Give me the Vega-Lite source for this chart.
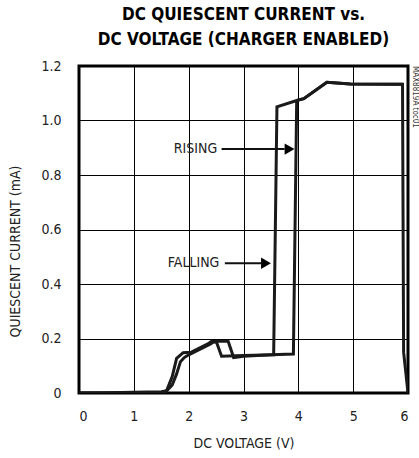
{
  "$schema": "https://vega.github.io/schema/vega-lite/v6.json",
  "autosize": {"type": "none"},
  "width": 329,
  "height": 327,
  "padding": {"left": 79, "top": 66, "right": 11, "bottom": 65},
  "title": {
    "text": ["DC QUIESCENT CURRENT vs.", "DC VOLTAGE (CHARGER ENABLED)"],
    "font": "DejaVu Sans Condensed",
    "fontSize": 17,
    "fontWeight": "bold",
    "color": "#000",
    "anchor": "middle",
    "offset": 10,
    "lineHeight": 25
  },
  "config": {
    "view": {"stroke": "#000", "strokeWidth": 3},
    "font": "DejaVu Sans Condensed"
  },
  "datasets": {
    "curve": [
      {"s": "rising", "i": 1, "v": 0.0, "c": 0.0},
      {"s": "rising", "i": 2, "v": 0.5, "c": 0.001},
      {"s": "rising", "i": 3, "v": 1.0, "c": 0.003},
      {"s": "rising", "i": 4, "v": 1.5, "c": 0.005},
      {"s": "rising", "i": 5, "v": 1.6, "c": 0.008},
      {"s": "rising", "i": 6, "v": 1.7, "c": 0.03},
      {"s": "rising", "i": 7, "v": 1.78, "c": 0.07},
      {"s": "rising", "i": 8, "v": 1.85, "c": 0.115},
      {"s": "rising", "i": 9, "v": 1.92, "c": 0.13},
      {"s": "rising", "i": 10, "v": 2.0, "c": 0.14},
      {"s": "rising", "i": 11, "v": 2.1, "c": 0.15},
      {"s": "rising", "i": 12, "v": 2.2, "c": 0.16},
      {"s": "rising", "i": 13, "v": 2.3, "c": 0.17},
      {"s": "rising", "i": 14, "v": 2.4, "c": 0.18},
      {"s": "rising", "i": 15, "v": 2.47, "c": 0.19},
      {"s": "rising", "i": 16, "v": 2.72, "c": 0.19},
      {"s": "rising", "i": 17, "v": 2.82, "c": 0.13},
      {"s": "rising", "i": 18, "v": 3.0, "c": 0.135},
      {"s": "rising", "i": 19, "v": 3.5, "c": 0.14},
      {"s": "rising", "i": 20, "v": 3.91, "c": 0.143},
      {"s": "rising", "i": 21, "v": 3.97, "c": 1.07},
      {"s": "rising", "i": 22, "v": 4.0, "c": 1.075},
      {"s": "rising", "i": 23, "v": 4.1, "c": 1.08},
      {"s": "rising", "i": 24, "v": 4.52, "c": 1.14},
      {"s": "rising", "i": 25, "v": 4.95, "c": 1.134},
      {"s": "rising", "i": 26, "v": 5.9, "c": 1.133},
      {"s": "rising", "i": 27, "v": 5.92, "c": 0.15},
      {"s": "rising", "i": 28, "v": 6.0, "c": 0.0},
      {"s": "falling", "i": 1, "v": 5.9, "c": 1.133},
      {"s": "falling", "i": 2, "v": 4.95, "c": 1.134},
      {"s": "falling", "i": 3, "v": 4.52, "c": 1.14},
      {"s": "falling", "i": 4, "v": 4.1, "c": 1.08},
      {"s": "falling", "i": 5, "v": 4.0, "c": 1.075},
      {"s": "falling", "i": 6, "v": 3.61, "c": 1.05},
      {"s": "falling", "i": 7, "v": 3.55, "c": 0.14},
      {"s": "falling", "i": 8, "v": 3.0, "c": 0.138},
      {"s": "falling", "i": 9, "v": 2.6, "c": 0.135},
      {"s": "falling", "i": 10, "v": 2.51, "c": 0.185},
      {"s": "falling", "i": 11, "v": 2.42, "c": 0.19},
      {"s": "falling", "i": 12, "v": 2.35, "c": 0.18},
      {"s": "falling", "i": 13, "v": 2.25, "c": 0.17},
      {"s": "falling", "i": 14, "v": 2.15, "c": 0.16},
      {"s": "falling", "i": 15, "v": 2.05, "c": 0.15},
      {"s": "falling", "i": 16, "v": 1.9, "c": 0.148},
      {"s": "falling", "i": 17, "v": 1.78, "c": 0.127},
      {"s": "falling", "i": 18, "v": 1.7, "c": 0.06},
      {"s": "falling", "i": 19, "v": 1.6, "c": 0.01},
      {"s": "falling", "i": 20, "v": 1.57, "c": 0.0},
      {"s": "falling", "i": 21, "v": 1.0, "c": 0.0},
      {"s": "falling", "i": 22, "v": 0.0, "c": 0.0}
    ],
    "ann": [
      {"label": "RISING", "x": 2.52, "y": 0.895},
      {"label": "FALLING", "x": 2.56, "y": 0.476}
    ],
    "arrows": [
      {"x1": 2.6, "x2": 3.75, "y": 0.895, "tip": 3.84},
      {"x1": 2.66, "x2": 3.32, "y": 0.476, "tip": 3.41}
    ],
    "side": [
      {"label": "MAX8819A toc01", "x": 6, "y": 1.2}
    ]
  },
  "layer": [
    {
      "data": {"name": "curve"},
      "mark": {"type": "line", "color": "#1a1a1a", "strokeWidth": 3, "strokeJoin": "miter", "clip": true},
      "encoding": {
        "x": {
          "field": "v", "type": "quantitative",
          "scale": {"domain": [0, 6], "nice": false, "zero": false},
          "axis": {
            "title": "DC VOLTAGE (V)",
            "values": [0, 1, 2, 3, 4, 5, 6],
            "format": "d",
            "grid": true, "gridColor": "#000", "gridWidth": 1, "gridOpacity": 1,
            "ticks": false, "domain": false,
            "labelFontSize": 14, "labelColor": "#222", "labelPadding": 16,
            "titleFontSize": 14, "titleFontWeight": "normal", "titleColor": "#222",
            "titleBaseline": "middle", "titleY": 50
          }
        },
        "y": {
          "field": "c", "type": "quantitative",
          "scale": {"domain": [0, 1.2], "nice": false},
          "axis": {
            "title": "QUIESCENT CURRENT (mA)",
            "values": [0, 0.2, 0.4, 0.6, 0.8, 1.0, 1.2],
            "labelExpr": "datum.value == 0 ? '0' : format(datum.value, '.1f')",
            "grid": true, "gridColor": "#000", "gridWidth": 1, "gridOpacity": 1,
            "ticks": false, "domain": false,
            "labelFontSize": 14, "labelColor": "#222", "labelPadding": 18,
            "titleFontSize": 14, "titleFontWeight": "normal", "titleColor": "#222",
            "titleBaseline": "middle", "titleX": -64, "titleY": 185
          }
        },
        "detail": {"field": "s"},
        "order": {"field": "i", "type": "quantitative"}
      }
    },
    {
      "data": {"name": "arrows"},
      "mark": {"type": "rule", "color": "#111", "strokeWidth": 2},
      "encoding": {
        "x": {"field": "x1", "type": "quantitative"},
        "x2": {"field": "x2"},
        "y": {"field": "y", "type": "quantitative"}
      }
    },
    {
      "data": {"name": "arrows"},
      "mark": {"type": "point", "shape": "triangle-right", "filled": true, "color": "#000", "opacity": 1, "size": 130},
      "encoding": {
        "x": {"field": "tip", "type": "quantitative"},
        "y": {"field": "y", "type": "quantitative"}
      }
    },
    {
      "data": {"name": "ann"},
      "mark": {"type": "text", "align": "right", "baseline": "middle", "fontSize": 14, "color": "#222"},
      "encoding": {
        "x": {"field": "x", "type": "quantitative"},
        "y": {"field": "y", "type": "quantitative"},
        "text": {"field": "label"}
      }
    },
    {
      "data": {"name": "side"},
      "mark": {"type": "text", "angle": 90, "align": "left", "baseline": "middle", "fontSize": 8, "color": "#333", "dx": 0, "dy": -6.5},
      "encoding": {
        "x": {"field": "x", "type": "quantitative"},
        "y": {"field": "y", "type": "quantitative"},
        "text": {"field": "label"}
      }
    }
  ]
}
